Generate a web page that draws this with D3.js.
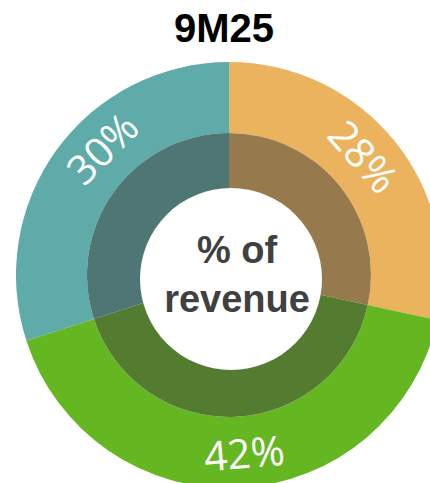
<!DOCTYPE html>
<html>
<head>
<meta charset="utf-8">
<script src="https://cdn.jsdelivr.net/npm/d3@7"></script>
<style>
  html, body { margin: 0; padding: 0; background: #ffffff; }
  svg { display: block; }
</style>
</head>
<body>
<script>
// ---- data ----
const title = "9M25";
const categories = ["A", "B", "C"];
const values = [28.4, 41.6, 30.0];
const labels = ["28%", "42%", "30%"];
const colors = ["#EBB35E", "#65B722", "#5EABA9"];
const innerColors = ["#967A4D", "#537C30", "#4E7674"];
const centerLines = ["% of", "revenue"];

// ---- layout / style ----
const W = 430, H = 483;
const cx = 229, cy = 275;
const rOuter = 213, rMid = 142, rHole = 91;
const labelR = 179;
const labelNudgeDeg = [-2.5, -2, 9]; // small manual placement tweaks of slice labels

const svg = d3.select("body").append("svg").attr("width", W).attr("height", H);

svg.append("text")
  .attr("x", 224).attr("y", 42)
  .attr("text-anchor", "middle")
  .attr("font-family", "Liberation Sans, Arial, sans-serif")
  .attr("font-weight", "bold")
  .attr("font-size", 40)
  .attr("fill", "#000")
  .text(title);

const data = categories.map((c, i) => ({ c, v: values[i], label: labels[i], i }));
const pie = d3.pie().sort(null).value(d => d.v);
const arcs = pie(data);

const g = svg.append("g").attr("transform", `translate(${cx},${cy})`);
const outerArc = d3.arc().innerRadius(rMid).outerRadius(rOuter);
const innerArc = d3.arc().innerRadius(0).outerRadius(rMid);

g.selectAll("path.outer").data(arcs).join("path")
  .attr("class", "outer")
  .attr("d", outerArc)
  .attr("fill", d => colors[d.data.i]);

g.selectAll("path.inner").data(arcs).join("path")
  .attr("class", "inner")
  .attr("d", innerArc)
  .attr("fill", d => innerColors[d.data.i]);

// white hole
svg.append("circle").attr("cx", 231).attr("cy", 279).attr("r", rHole).attr("fill", "#fff");

// slice labels
g.selectAll("text.lbl").data(arcs).join("text")
  .attr("class", "lbl")
  .attr("transform", d => {
    const a = (d.startAngle + d.endAngle) / 2 + labelNudgeDeg[d.data.i] * Math.PI / 180;
    const x = labelR * Math.sin(a), y = -labelR * Math.cos(a);
    let deg = a * 180 / Math.PI;
    if (deg > 90 && deg < 270) deg -= 180;
    if (deg >= 270) deg -= 360;
    return `translate(${x},${y}) rotate(${deg})`;
  })
  .attr("text-anchor", "middle")
  .attr("dy", "0.36em")
  .attr("font-family", "Open Sans, Liberation Sans, sans-serif")
  .attr("font-size", 41)
  .attr("fill", "#fff")
  .text(d => d.data.label);

// center text
svg.append("text")
  .attr("x", 237).attr("y", 263)
  .attr("text-anchor", "middle")
  .attr("font-family", "Liberation Sans, Arial, sans-serif")
  .attr("font-weight", "bold")
  .attr("font-size", 38)
  .attr("fill", "#404040")
  .selectAll("tspan").data(centerLines).join("tspan")
  .attr("x", 237)
  .attr("dy", (d, i) => i === 0 ? 0 : 49)
  .text(d => d);
</script>
</body>
</html>
